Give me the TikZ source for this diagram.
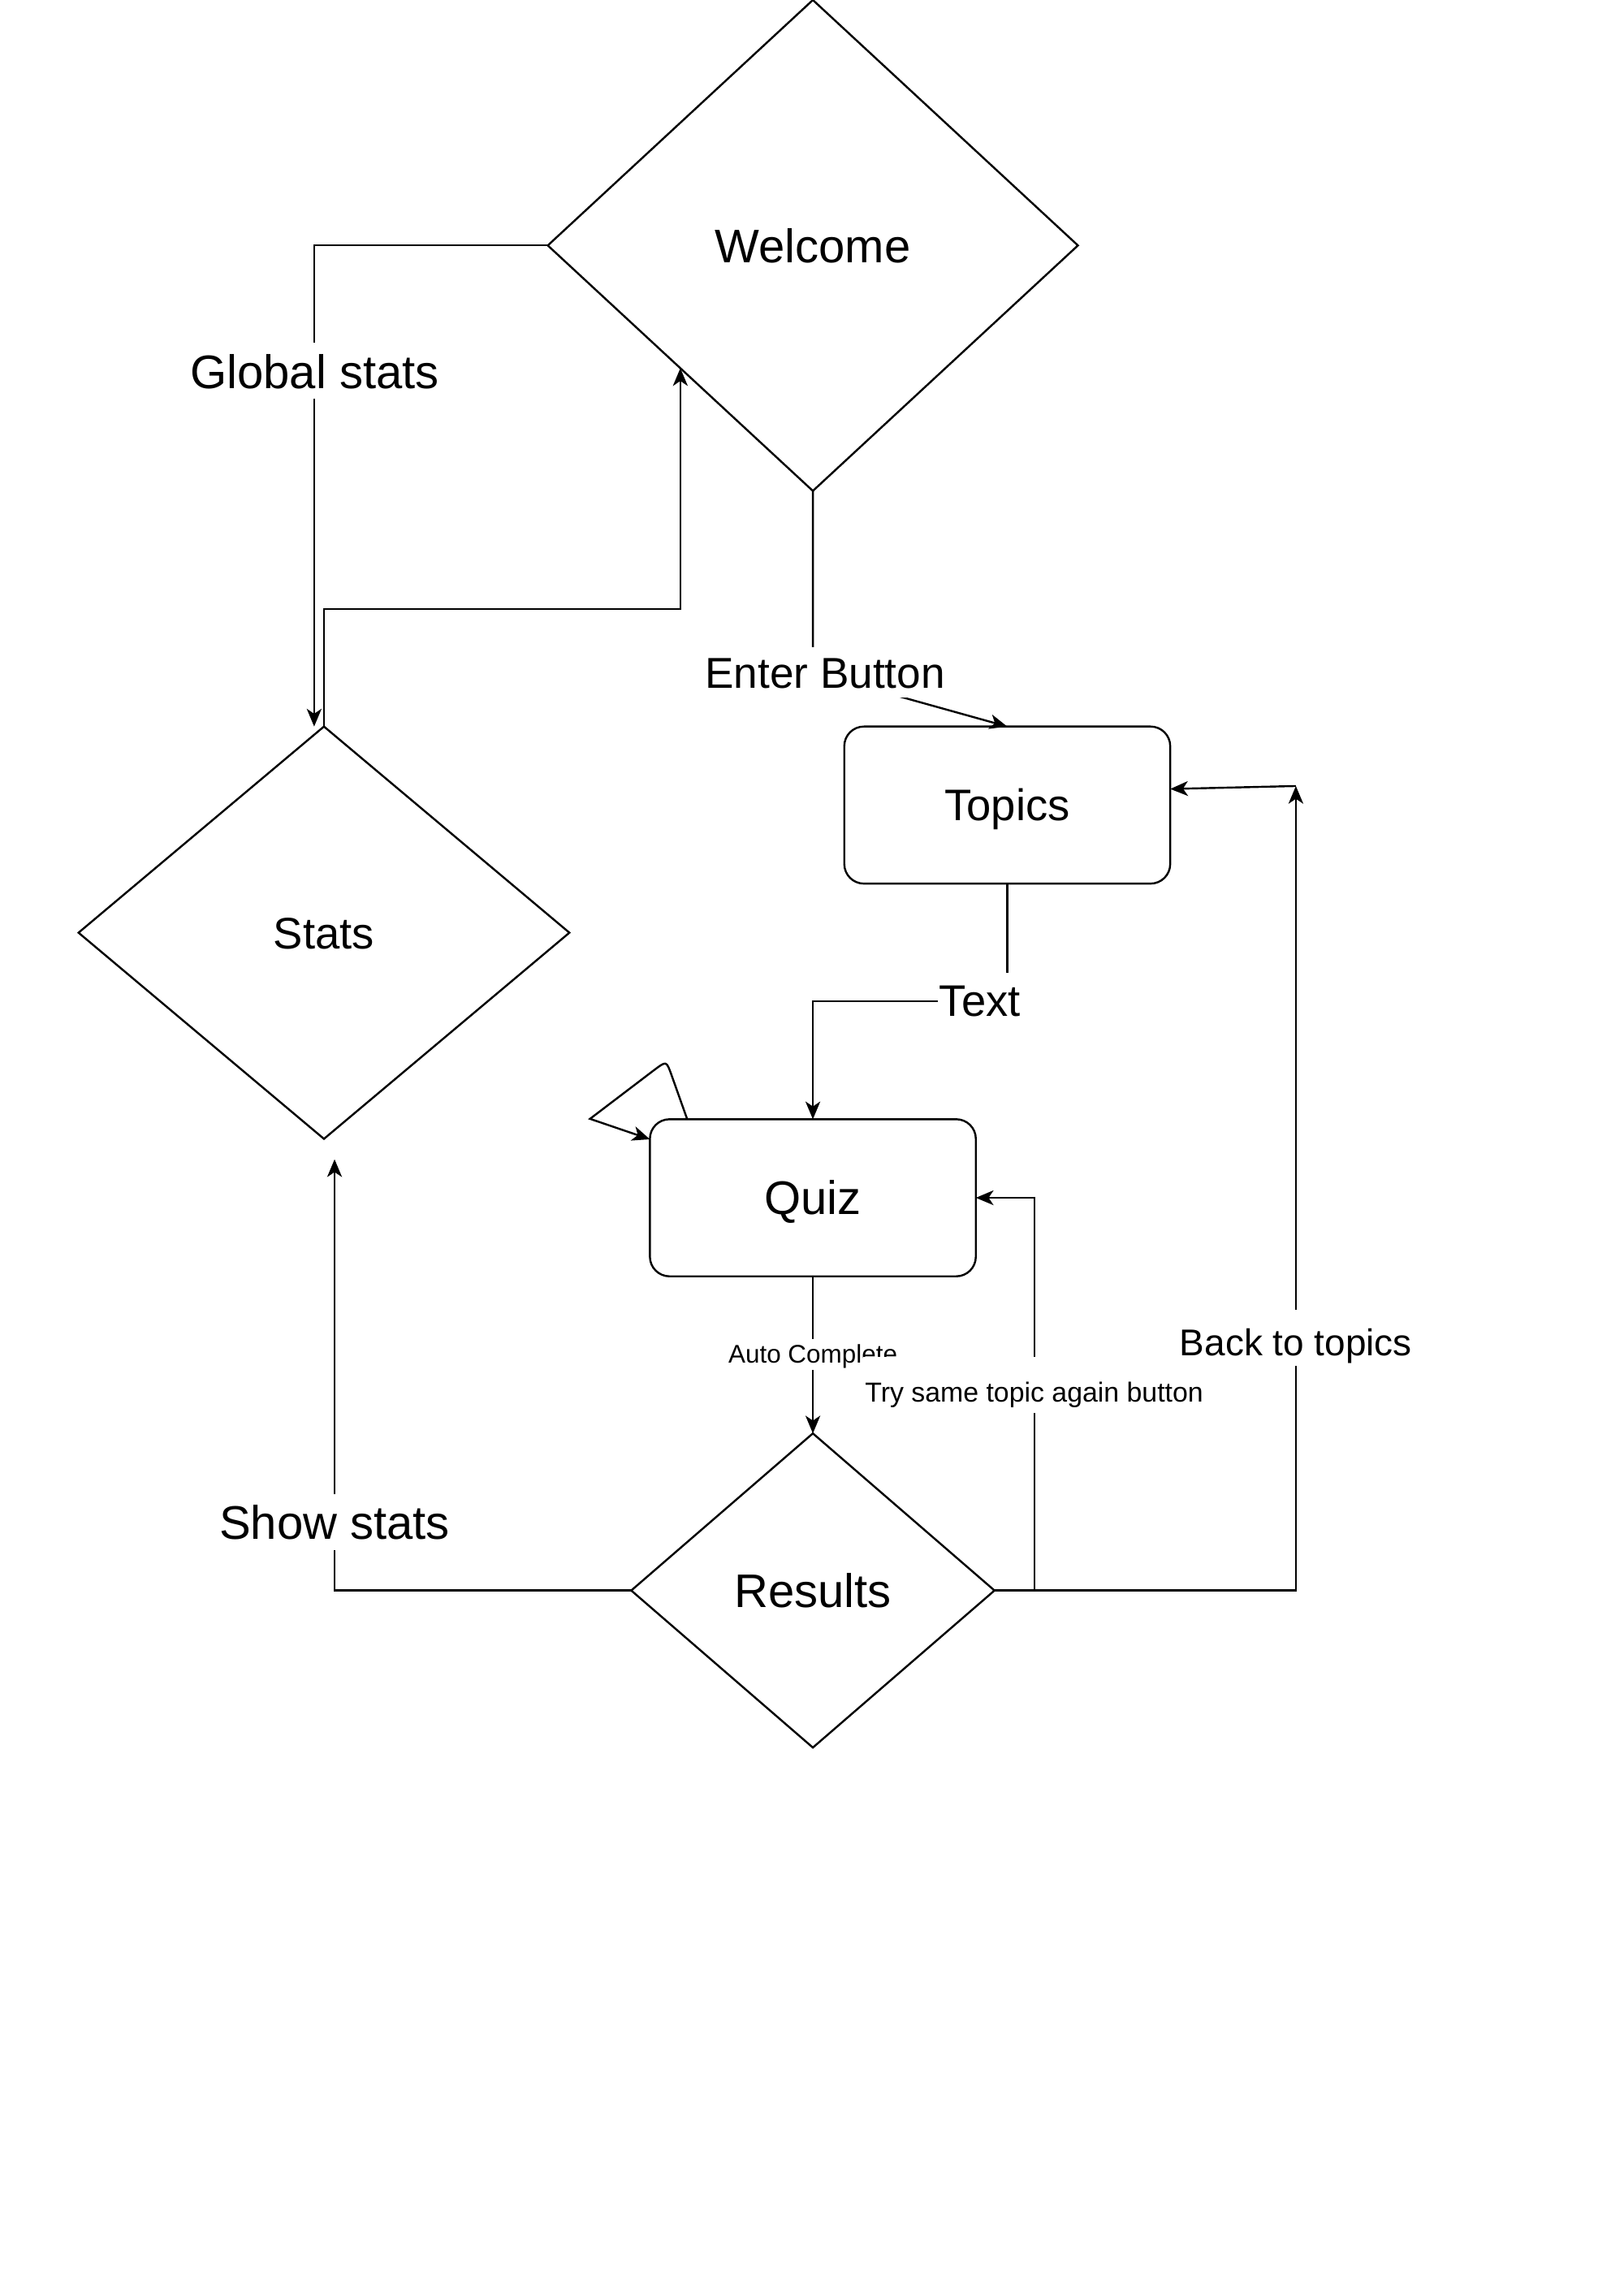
\documentclass[tikz,border=0pt]{standalone}
\usepackage{fontspec}
\setmainfont{Liberation Sans}
\usetikzlibrary{shapes.geometric,arrows.meta,calc}

\newcommand{\pxfont}[1]{\fontsize{#1}{#1}\selectfont}

\tikzset{
    state/.style={diamond, draw, line width=1pt, inner sep=0pt, outer sep=0pt, text depth=0pt},
    screen/.style={rectangle, draw, rounded corners=10pt, line width=1pt, minimum width=166pt, minimum height=80pt, inner sep=0pt, outer sep=0pt, text depth=0pt},
    link/.style={line width=1pt, -{Stealth[length=9pt, width=7.5pt, inset=2.5pt]}},
    edgelabel/.style={fill=white, inner xsep=1pt, inner ysep=0pt, anchor=base},
}

\begin{document}
\begin{tikzpicture}[x=1pt, y=-1pt]
    \useasboundingbox (0,0) rectangle (827.1,1168.3);

    \node[state, minimum width=270pt, minimum height=250pt, font=\pxfont{24}, text height=17.2pt] (welcome) at (414,125) {Welcome};
    \node[state, minimum width=250pt, minimum height=210pt, font=\pxfont{22.5}, text height=16.1pt] (stats) at (165,475) {Stats};
    \node[screen, font=\pxfont{22.5}, text height=16.1pt] (topics) at (513,410) {Topics};
    \node[screen, font=\pxfont{24}, text height=17.2pt] (quiz) at (414,610) {Quiz};
    \node[state, minimum width=185pt, minimum height=160pt, font=\pxfont{24}, text height=17.2pt] (results) at (414,810) {Results};

    \coordinate (welin) at ($(welcome.west)!0.5!(welcome.south)$);
    \coordinate (showend) at ([xshift=5.4pt, yshift=-10.4pt]stats.south);
    \coordinate (backend) at (660,400.3);

    \draw[link] (welcome.west) -| ([xshift=-5pt]stats.north);
    \draw[link] (stats.north) -- ++(0,-59.8) -| (welin);
    \draw[link] (welcome.south) -- ++(0,92.4) -- (topics.north);
    \draw[link] (topics.south) -- ++(0,60) -| (quiz.north);
    % loop on quiz
    \draw[link] ([xshift=-64pt]quiz.north) -- (341.9,547.2) .. controls (339.4,540.3) .. (333.5,544.7) -- (300.5,569.8) -- ([yshift=29.8pt]quiz.west);
    \draw[link] (quiz.south) -- (results.north);
    \draw[link] (results.west) -| (showend);
    \draw[link] (results.east) -- ++(20.3,0) |- (quiz.east);
    \draw[link] (results.east) -| (backend);
    \draw[link] (backend) -- ([yshift=8.2pt]topics.east);

    % labels
    \node[edgelabel, font=\pxfont{24}, text height=23pt, text depth=5.3pt] (globallbl) at (160.3,197.7) {Global stats};
    \node[edgelabel, font=\pxfont{22}, text height=20.7pt, text depth=4.8pt] (enterlbl) at (420.2,350.3) {Enter Button};
    \node[edgelabel, font=\pxfont{22.5}, text height=22pt, text depth=5pt] (textlbl) at (499.1,517.4) {Text};
    \node[edgelabel, font=\pxfont{13}, text height=12pt, text depth=3.5pt] (autolbl) at (414,694.1) {Auto Complete};
    \node[edgelabel, font=\pxfont{14}, text height=22.7pt, text depth=5.8pt] (trylbl) at (526.7,713.8) {Try same topic again button};
    \node[edgelabel, font=\pxfont{19}, text height=23.6pt, text depth=5pt] (backlbl) at (660,690.6) {Back to topics};
    \node[edgelabel, font=\pxfont{24}, text height=23pt, text depth=5.3pt] (showlbl) at (170.4,784) {Show stats};
\end{tikzpicture}
\end{document}
